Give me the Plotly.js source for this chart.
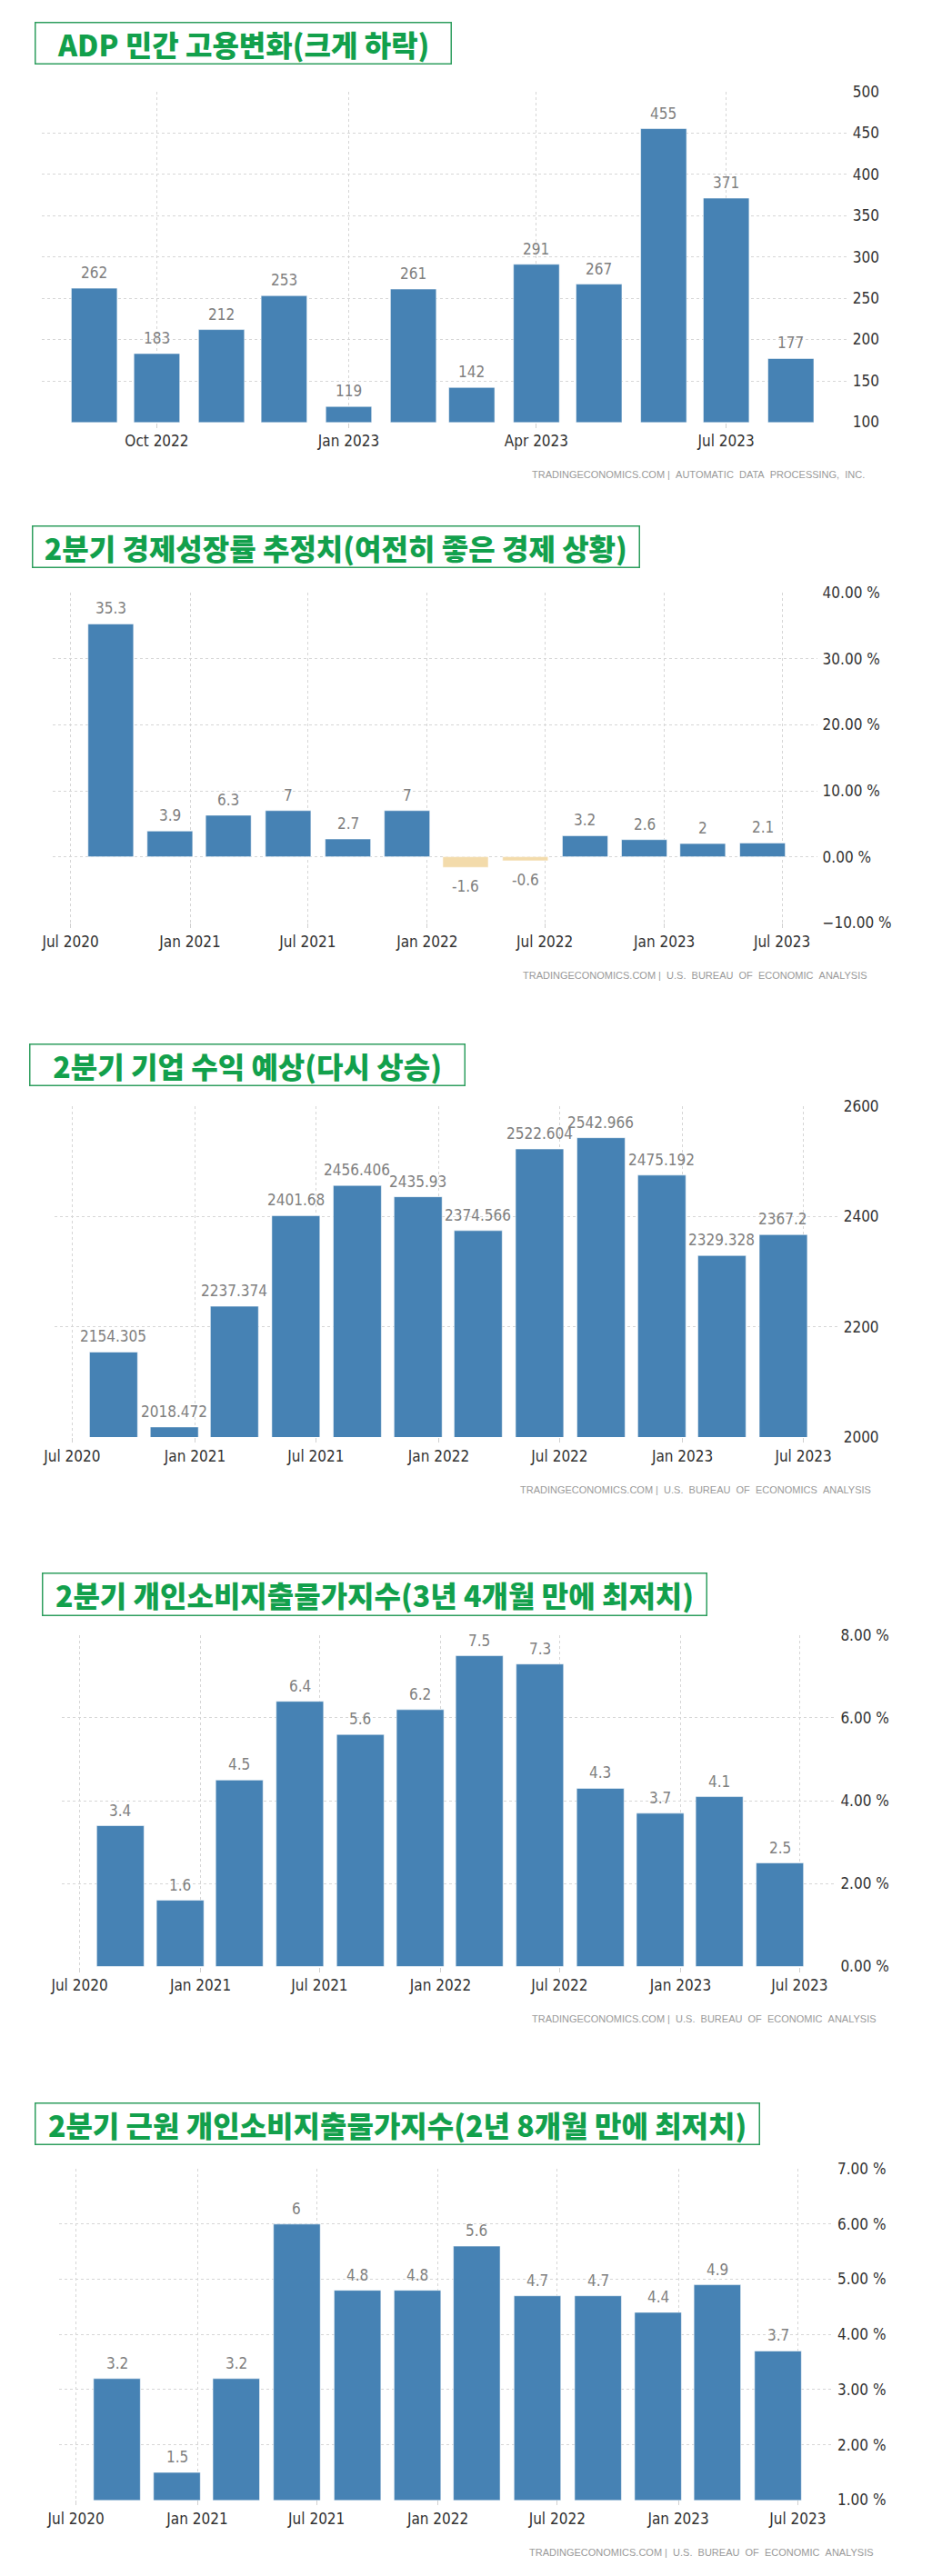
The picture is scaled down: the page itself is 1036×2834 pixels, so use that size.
<!DOCTYPE html>
<html>
<head>
<meta charset="utf-8">
<script src="https://cdn.plot.ly/plotly-3.0.1.min.js"></script>
<style>
  html, body { margin: 0; padding: 0; background: #ffffff; }
  #chart { width: 1036px; height: 2834px; }
</style>
</head>
<body>
<div id="chart"></div>
<script>
// ---------- DATA ----------
const adpMonths = ['2022-09-01','2022-10-01','2022-11-01','2022-12-01','2023-01-01','2023-02-01',
                   '2023-03-01','2023-04-01','2023-05-01','2023-06-01','2023-07-01','2023-08-01'];
const adpValues = [262, 183, 212, 253, 119, 261, 142, 291, 267, 455, 371, 177];
const adpTickVals = ['2022-10-01','2023-01-01','2023-04-01','2023-07-01'];
const adpTickText = ['Oct 2022','Jan 2023','Apr 2023','Jul 2023'];

const quarters = ['2020-09-01','2020-12-01','2021-03-01','2021-06-01','2021-09-01','2021-12-01',
                  '2022-03-01','2022-06-01','2022-09-01','2022-12-01','2023-03-01','2023-06-01'];
const gdpValues = [35.3, 3.9, 6.3, 7, 2.7, 7, -1.6, -0.6, 3.2, 2.6, 2, 2.1];
const profitValues = [2154.305, 2018.472, 2237.374, 2401.68, 2456.406, 2435.93,
                      2374.566, 2522.604, 2542.966, 2475.192, 2329.328, 2367.2];
const pceValues = [3.4, 1.6, 4.5, 6.4, 5.6, 6.2, 7.5, 7.3, 4.3, 3.7, 4.1, 2.5];
const corePceValues = [3.2, 1.5, 3.2, 6, 4.8, 4.8, 5.6, 4.7, 4.7, 4.4, 4.9, 3.7];
const qTickVals = ['2020-07-01','2021-01-01','2021-07-01','2022-01-01','2022-07-01','2023-01-01','2023-07-01'];
const qTickText = ['Jul 2020','Jan 2021','Jul 2021','Jan 2022','Jul 2022','Jan 2023','Jul 2023'];

const titles = [
  'ADP 민간 고용변화(크게 하락)',
  '2분기 경제성장률 추정치(여전히 좋은 경제 상황)',
  '2분기 기업 수익 예상(다시 상승)',
  '2분기 개인소비지출물가지수(3년 4개월 만에 최저치)',
  '2분기 근원 개인소비지출물가지수(2년 8개월 만에 최저치)'
];
const NB = '\u00a0';
const sources = [
  'TRADINGECONOMICS.COM' + NB + '|' + NB + NB + 'AUTOMATIC' + NB + NB + 'DATA' + NB + NB + 'PROCESSING,' + NB + NB + 'INC.',
  'TRADINGECONOMICS.COM' + NB + '|' + NB + NB + 'U.S.' + NB + NB + 'BUREAU' + NB + NB + 'OF' + NB + NB + 'ECONOMIC' + NB + NB + 'ANALYSIS',
  'TRADINGECONOMICS.COM' + NB + '|' + NB + NB + 'U.S.' + NB + NB + 'BUREAU' + NB + NB + 'OF' + NB + NB + 'ECONOMICS' + NB + NB + 'ANALYSIS',
  'TRADINGECONOMICS.COM' + NB + '|' + NB + NB + 'U.S.' + NB + NB + 'BUREAU' + NB + NB + 'OF' + NB + NB + 'ECONOMIC' + NB + NB + 'ANALYSIS',
  'TRADINGECONOMICS.COM' + NB + '|' + NB + NB + 'U.S.' + NB + NB + 'BUREAU' + NB + NB + 'OF' + NB + NB + 'ECONOMIC' + NB + NB + 'ANALYSIS'
];

// ---------- LAYOUT (pixel geometry) ----------
const W = 1036, H = 2834;
const DAY = 86400000;
const charts = [
  { x: adpMonths, y: adpValues, tv: adpTickVals, tt: adpTickText, barDays: 22,
    plot: [46.3, 931.7, 100.6, 464.5], xr: ['2022-08-07', '2023-08-28'], yr: [100, 500], dtick: 50, fmt: '', suf: '',
    tbox: [38.3, 497.7, 24.3, 71.3], src: [953.3, 521.7] },
  { x: quarters, y: gdpValues, tv: qTickVals, tt: qTickText, barDays: 70,
    plot: [57.5, 898.6, 652.3, 1015.2], xr: ['2020-06-03', '2023-08-24'], yr: [-10, 40], dtick: 10, fmt: '.2f', suf: ' %',
    tbox: [35, 703.6, 578.3, 625.4], src: [956, 1073] },
  { x: quarters, y: profitValues, tv: qTickVals, tt: qTickText, barDays: 72,
    plot: [59.5, 921.7, 1217.1, 1581.1], xr: ['2020-06-04', '2023-08-22'], yr: [2000, 2600], dtick: 200, fmt: '', suf: '',
    tbox: [31.7, 512, 1148.3, 1195.4], src: [960, 1639] },
  { x: quarters, y: pceValues, tv: qTickVals, tt: qTickText, barDays: 72,
    plot: [68, 918.4, 1798.8, 2163.5], xr: ['2020-06-04', '2023-08-24'], yr: [0, 8], dtick: 2, fmt: '.2f', suf: ' %',
    tbox: [46.3, 778.3, 1730.3, 1777.8], src: [966, 2221.3] },
  { x: quarters, y: corePceValues, tv: qTickVals, tt: qTickText, barDays: 71,
    plot: [64.8, 915, 2386.1, 2750.4], xr: ['2020-06-05', '2023-08-22'], yr: [1, 7], dtick: 1, fmt: '.2f', suf: ' %',
    tbox: [38.3, 836.5, 2313.3, 2360.7], src: [963, 2808] }
];

const POS = '#4682b4', NEG = '#f3dbab';
const tickFont = { family: '"Liberation Sans Narrow", "DejaVu Sans Condensed", "Arial Narrow", "Liberation Sans", sans-serif', size: 17, color: '#333333' };
const labelFont = { family: '"Liberation Sans Narrow", "DejaVu Sans Condensed", "Arial Narrow", "Liberation Sans", sans-serif', size: 17, color: '#808080' };

const data = [];
const layout = {
  width: W, height: H, margin: { l: 0, r: 0, t: 0, b: 0 },
  paper_bgcolor: '#ffffff', plot_bgcolor: '#ffffff',
  showlegend: false, annotations: []
};

charts.forEach((c, i) => {
  const n = i + 1;
  const xa = 'xaxis' + (n === 1 ? '' : n), ya = 'yaxis' + (n === 1 ? '' : n);
  const xr = 'x' + (n === 1 ? '' : n), yr = 'y' + (n === 1 ? '' : n);
  const [L, R, T, B] = c.plot;

  data.push({
    type: 'bar', x: c.x, y: c.y, xaxis: xr, yaxis: yr,
    width: c.barDays * DAY,
    marker: { color: c.y.map(v => v < 0 ? NEG : POS), line: { color: 'rgba(255,255,255,0.55)', width: 1 } },
    hoverinfo: 'skip'
  });

  layout[xa] = {
    type: 'date', domain: [L / W, R / W], range: c.xr, anchor: yr,
    tickmode: 'array', tickvals: c.tv, ticktext: c.tt,
    showgrid: true, gridcolor: '#d6d6d6', griddash: 'dot', gridwidth: 1,
    ticks: 'outside', ticklen: 5, tickcolor: '#d0d0d0',
    showline: false, zeroline: false, tickfont: tickFont, fixedrange: true
  };
  layout[ya] = {
    domain: [1 - B / H, 1 - T / H], range: c.yr, anchor: xr, side: 'right',
    tick0: c.yr[0], dtick: c.dtick, tickformat: c.fmt, ticksuffix: c.suf,
    showgrid: true, gridcolor: '#d6d6d6', griddash: 'dot', gridwidth: 1,
    zeroline: false, showline: false, ticks: '', ticklabelstandoff: 5,
    tickfont: tickFont, fixedrange: true
  };

  // data labels
  c.x.forEach((d, k) => {
    const v = c.y[k];
    layout.annotations.push({
      xref: xr, yref: yr, x: d, y: v, text: String(v), showarrow: false,
      xanchor: 'center', yanchor: v < 0 ? 'top' : 'bottom', yshift: v < 0 ? -9 : 5,
      font: labelFont
    });
  });

  // title box
  const [tl, tr, tt, tb] = c.tbox;
  const bw = 1.5;
  layout.annotations.push({
    xref: 'paper', yref: 'paper', x: tl / W, y: 1 - tt / H, xanchor: 'left', yanchor: 'top',
    width: (tr - tl) - 2 * bw, height: (tb - tt) - 2 * bw, borderpad: 0,
    bordercolor: '#2e9e5e', borderwidth: bw, align: 'center', valign: 'middle',
    text: titles[i], showarrow: false,
    font: { family: '"Noto Sans CJK KR", "Noto Sans", sans-serif', size: 32, color: '#12a04c', weight: 900 }
  });

  // source line
  layout.annotations.push({
    xref: 'paper', yref: 'paper', x: c.src[0] / W, y: 1 - c.src[1] / H,
    xanchor: 'right', yanchor: 'middle', text: sources[i], showarrow: false,
    font: { family: '"Liberation Sans", Arial, sans-serif', size: 11, color: '#9a9a9a' }
  });
});

Plotly.newPlot('chart', data, layout, { staticPlot: true, displayModeBar: false });
</script>
</body>
</html>
